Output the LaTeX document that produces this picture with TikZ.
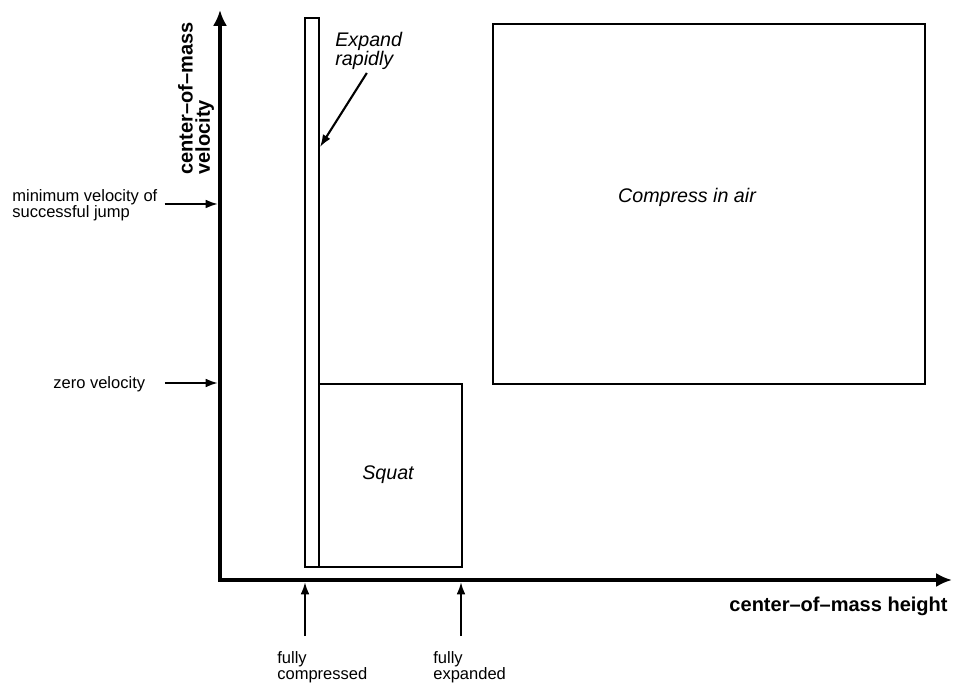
\documentclass[tikz,border=0pt]{standalone}
\usepackage{fontspec}
\setmainfont{Liberation Sans}
\usetikzlibrary{arrows.meta}
\begin{document}
\begin{tikzpicture}[x=0.02cm,y=-0.02cm,
  axis line/.style={line width=2.7pt,line join=miter,{Latex[length=9pt,width=8pt]}-{Latex[length=9pt,width=8pt]}},
  pointer/.style={line width=1.2pt,-{Latex[length=7pt,width=5pt]}},
  region/.style={line width=1.1pt},
  side text/.style={inner sep=0pt,align=left,font=\fontsize{9.4}{9.2}\selectfont},
  state text/.style={font=\fontsize{11.2}{10.8}\selectfont\itshape},
  axis text/.style={inner sep=0pt,align=left,font=\fontsize{11.4}{9.8}\selectfont\bfseries}]
\useasboundingbox (0,0) rectangle (954,685);

% axes
\coordinate (origin) at (220,580);
\coordinate (vtip) at (220,10);
\coordinate (htip) at (952,580);
\draw[axis line] (vtip) -- (origin) -- (htip);
\node[axis text,rotate=90,anchor=west] (vlabel) at (196,175) {center--of--mass\\velocity};
\node[axis text,anchor=east] (hlabel) at (948,606) {center--of--mass height};

% regions
\draw[region] (305,18) rectangle (319,567);
\draw[region] (319,384) rectangle (462,567);
\draw[region] (493,24) rectangle (925,384);
\node[state text] (squat) at (388,475) {Squat};
\node[state text] (air) at (687,197) {Compress in air};
\node[state text,inner sep=0pt,align=left,anchor=north west] (expand) at (335,32) {Expand\\rapidly};
\coordinate (bar hit) at (320,147);
\draw[pointer,shorten <=2pt] (expand.south) -- (bar hit);

% velocity marks
\coordinate (vmin) at (218,204);
\coordinate (vzero) at (218,383);
\node[side text,anchor=west] (minvel) at (12,205) {minimum velocity of\\successful jump};
\node[side text,anchor=west] (zerovel) at (53,384) {zero velocity};
\draw[pointer,shorten <=4pt] (minvel.east |- vmin) -- (vmin);
\draw[pointer,shorten <=11pt] (zerovel.east |- vzero) -- (vzero);

% height marks
\coordinate (hcomp) at (305,582);
\coordinate (hexp) at (461,582);
\node[side text,anchor=north west] (fullcomp) at (277,651) {fully\\compressed};
\node[side text,anchor=north west] (fullexp) at (433,651) {fully\\expanded};
\draw[pointer,shorten <=8.5pt] (fullcomp.north -| hcomp) -- (hcomp);
\draw[pointer,shorten <=8.5pt] (fullexp.north -| hexp) -- (hexp);
\end{tikzpicture}
\end{document}
